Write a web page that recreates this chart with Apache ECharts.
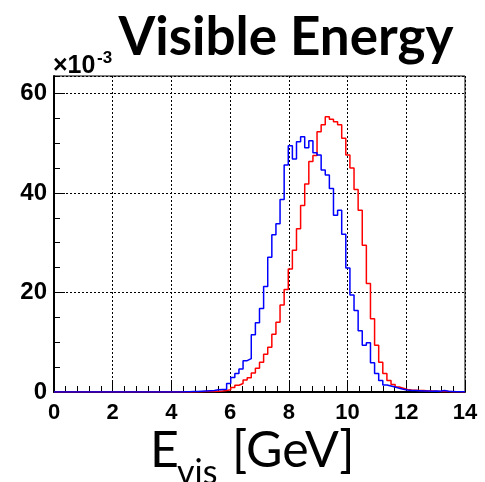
<!DOCTYPE html>
<html><head><meta charset="utf-8">
<script src="https://cdn.jsdelivr.net/npm/echarts@6/dist/echarts.min.js"></script>
<style>html,body{margin:0;padding:0;background:#fff}#c{width:485px;height:482px}</style>
</head><body><div id="c"></div>
<script>
// Histogram: 100 bins of 0.14 GeV from 0 to 14 GeV; values in units of 10^-3
const binWidth = 0.14;
const xMin = 0, xMax = 14, xStep = 2;
const yMin = 0, yMax = 63.5, yStep = 20, yMinorStep = 5;
const titleText = 'Visible Energy';
const exponentBase = '\u00d710';
const exponentPower = '-3';
const axisTitleMain = 'E';
const axisTitleSub = 'vis';
const axisTitleUnit = '[GeV]';

const blueValues = [
  0,0,0,0,0,0,0,0,0,0,
  0,0,0,0,0,0,0,0,0,0,
  0,0,0,0,0,0,0,0,0,0,
  0,0.05,0.05,0.1,0.1,0.15,0.2,0.25,0.3,0.45,
  0.5,0.55,1.7,2.9,3.7,4.6,6.3,6.7,11.5,13.9,
  16.8,21.2,27.1,31.6,33.8,38.7,45.6,49.5,46.8,50.3,
  51.3,49.1,50.5,48.1,47.6,44.6,43.6,40.9,35.5,36.5,
  31.7,24.9,19.5,16.4,12.3,9.4,9.9,5.9,3.7,2.3,
  1.4,1.2,1.0,0.75,0.55,0.4,0.3,0.3,0.25,0.2,
  0.2,0.15,0.2,0.15,0.3,0.15,0.1,0.05,0.05,0.05
];
const redValues = [
  0,0,0,0,0,0,0,0,0,0,
  0,0,0,0,0,0,0,0,0,0,
  0,0,0,0,0,0,0,0,0,0,
  0,0,0,0,0.05,0.05,0.1,0.1,0.1,0.15,
  0.2,0.3,0.45,0.9,1.35,1.7,2.4,2.85,3.8,4.75,
  6.0,7.6,9.0,11.6,14.0,17.5,20.6,24.7,28.5,32.8,
  37.5,41.8,46.3,47.5,52.3,53.7,55.3,54.8,54.3,53.7,
  51.0,47.6,45.0,40.7,36.5,29.5,21.8,14.7,9.4,6.0,
  3.7,2.3,1.5,1.0,0.75,0.5,0.4,0.35,0.3,0.3,
  0.2,0.2,0.15,0.1,0.1,0.1,0.05,0.05,0.05,0
];

function stepPoints(vals){
  const pts = vals.map((v,i)=>[Math.round(i*binWidth*1000)/1000, v]);
  pts.push([xMax, vals[vals.length-1]]);
  return pts;
}

const chart = echarts.init(document.getElementById('c'), null, {renderer:'canvas'});
const dotted = {color:'#000', width:1, type:[2,2]};
const labelFont = 'Liberation Sans';
function txt(text, x, y, size, family, weight){
  return {type:'text', style:{text:text, x:x, y:y, fontSize:size, fontFamily:family, fontWeight:weight,
    fill:'#000', align:'left', verticalAlign:'middle'}};
}
const titleEl = txt(titleText, 286, 38, 53, 'Lato', 'bold');
titleEl.style.align = 'center';
chart.setOption({
  animation:false,
  backgroundColor:'#fff',
  grid:{left:54, right:20, top:76, bottom:90, show:true, borderColor:'#000', borderWidth:1, backgroundColor:'transparent'},
  xAxis:{
    type:'value', min:xMin, max:xMax, interval:xStep,
    axisLine:{show:true, onZero:false, lineStyle:{color:'#000', width:2}},
    axisTick:{show:true, inside:true, length:12, lineStyle:{color:'#000', width:1}},
    minorTick:{show:true, splitNumber:5, length:6, lineStyle:{color:'#000', width:1}},
    axisLabel:{color:'#000', fontFamily:labelFont, fontWeight:'bold', fontSize:22, margin:10},
    splitLine:{show:true, lineStyle:dotted}
  },
  yAxis:[{
    type:'value', min:yMin, max:yMax, interval:yStep, position:'left',
    axisLine:{show:true, lineStyle:{color:'#000', width:2}},
    axisTick:{show:true, inside:true, length:11, lineStyle:{color:'#000', width:1}},
    axisLabel:{color:'#000', fontFamily:labelFont, fontWeight:'bold', fontSize:24, margin:7, showMaxLabel:false},
    splitLine:{show:true, lineStyle:dotted}
  },{
    type:'value', min:yMin, max:yMax, interval:yMinorStep, position:'left',
    axisLine:{show:false},
    axisTick:{show:true, inside:true, length:6, lineStyle:{color:'#000', width:1}},
    axisLabel:{show:false},
    splitLine:{show:false}
  }],
  series:[
    {type:'line', step:'end', data:stepPoints(redValues), showSymbol:false, symbol:'none',
     lineStyle:{color:'#ff0000', width:1.5}, yAxisIndex:0},
    {type:'line', step:'end', data:stepPoints(blueValues), showSymbol:false, symbol:'none',
     lineStyle:{color:'#0000ff', width:1.5}, yAxisIndex:0}
  ],
  graphic:[
    titleEl,
    txt(exponentBase, 53, 66.5, 25, 'Liberation Sans', 'bold'),
    txt(exponentPower, 97, 58, 17, 'Liberation Sans', 'bold'),
    txt(axisTitleMain, 150, 450.6, 50, 'Lato', 'normal'),
    txt(axisTitleSub, 177, 472.8, 34, 'Lato', 'normal'),
    txt(axisTitleUnit, 232, 450.6, 50, 'Lato', 'normal')
  ]
});
</script></body></html>
